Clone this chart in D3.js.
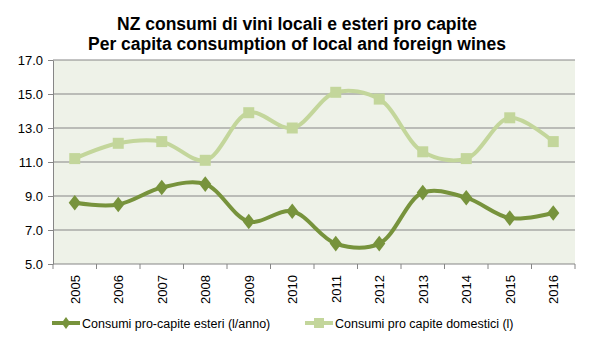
<!DOCTYPE html>
<html><head><meta charset="utf-8">
<script src="https://cdn.jsdelivr.net/npm/d3@7"></script>
<style>body{margin:0;background:#fff}svg{display:block}</style>
</head><body>
<script>
const years = ["2005","2006","2007","2008","2009","2010","2011","2012","2013","2014","2015","2016"];
const esteri = [8.6,8.5,9.5,9.7,7.5,8.1,6.2,6.2,9.2,8.9,7.7,8.0];
const domestici = [11.2,12.1,12.2,11.1,13.9,13.0,15.1,14.7,11.6,11.2,13.6,12.2];
const yTicks = [5,7,9,11,13,15,17];
const titleLines = ["NZ consumi di vini locali e esteri pro capite","Per capita consumption of local and foreign wines"];
const seriesNames = ["Consumi pro-capite esteri (l/anno)","Consumi pro capite domestici (l)"];

const W=594,H=344;
const svg=d3.select("body").append("svg").attr("width",W).attr("height",H);
const L=53,R=575,T=60,B=264;
const x=d3.scaleBand().domain(years).range([L,R]);
const y=d3.scaleLinear().domain([5,17]).range([B,T]);
const dark="#77933C", light="#C3D69B";

svg.append("rect").attr("x",L).attr("y",T).attr("width",R-L).attr("height",B-T).attr("fill","#EEF2E8");
svg.selectAll("line.grid").data(yTicks.slice(1)).enter().append("line")
  .attr("x1",L).attr("x2",R).attr("y1",d=>y(d)).attr("y2",d=>y(d))
  .attr("stroke","#868686").attr("stroke-width",1);

const ya=svg.append("g").attr("transform",`translate(${L},0)`)
  .call(d3.axisLeft(y).tickValues(yTicks).tickFormat(d3.format(".1f")).tickSize(5).tickSizeOuter(0));
ya.select(".domain").attr("stroke","#868686");
ya.selectAll(".tick line").attr("stroke","#868686");
ya.selectAll("text").attr("font-family","Liberation Sans, Arial, sans-serif").attr("font-size",13).attr("fill","#000").attr("x",-10);

const xa=svg.append("g").attr("transform",`translate(0,${B})`);
xa.append("line").attr("x1",L).attr("x2",R).attr("stroke","#868686");
const bounds=years.map(d=>x(d)).concat([x(years[years.length-1])+x.bandwidth()]);
xa.selectAll("line.t").data(bounds).enter().append("line")
  .attr("x1",d=>d).attr("x2",d=>d).attr("y1",0).attr("y2",5).attr("stroke","#868686");
xa.selectAll("text").data(years).enter().append("text")
  .attr("transform",d=>`translate(${x(d)+x.bandwidth()/2+5},11) rotate(-90)`)
  .attr("text-anchor","end")
  .attr("font-family","Liberation Sans, Arial, sans-serif").attr("font-size",13).text(d=>d);

const line=d3.line().x((d,i)=>x(years[i])+x.bandwidth()/2).y(d=>y(d)).curve(d3.curveCatmullRom.alpha(0.5));

svg.append("path").datum(domestici).attr("d",line).attr("fill","none").attr("stroke",light).attr("stroke-width",4);
svg.selectAll("rect.sq").data(domestici).enter().append("rect")
  .attr("x",(d,i)=>x(years[i])+x.bandwidth()/2-5.5).attr("y",d=>y(d)-5.5)
  .attr("width",11).attr("height",11).attr("fill",light);

svg.append("path").datum(esteri).attr("d",line).attr("fill","none").attr("stroke",dark).attr("stroke-width",4);
const diamond=d3.symbol().type(d3.symbolDiamond).size(70);
svg.selectAll("path.dm").data(esteri).enter().append("path")
  .attr("d",diamond).attr("transform",(d,i)=>`translate(${x(years[i])+x.bandwidth()/2},${y(d)}) scale(1.35,1)`)
  .attr("fill",dark);

const titleW=[360,418];
svg.selectAll("text.title").data(titleLines).enter().append("text")
  .attr("x",(d,i)=>297-titleW[i]/2).attr("y",(d,i)=>30+i*20)
  .attr("textLength",(d,i)=>titleW[i]).attr("lengthAdjust","spacingAndGlyphs")
  .attr("font-family","Liberation Sans, Arial, sans-serif").attr("font-weight","bold")
  .attr("font-size",18).text(d=>d);

// legend
const lg=[{x:52,c:dark,t:"d"},{x:305,c:light,t:"s"}];
lg.forEach((o,i)=>{
  const g=svg.append("g");
  g.append("line").attr("x1",o.x).attr("x2",o.x+28).attr("y1",323).attr("y2",323).attr("stroke",o.c).attr("stroke-width",4);
  if(o.t==="d") g.append("path").attr("d",d3.symbol().type(d3.symbolDiamond).size(40)).attr("transform",`translate(${o.x+14},323) scale(1.3,1)`).attr("fill",o.c);
  else g.append("rect").attr("x",o.x+9).attr("y",318).attr("width",10).attr("height",10).attr("fill",o.c);
  g.append("text").attr("x",o.x+30).attr("y",328).attr("font-family","Liberation Sans, Arial, sans-serif")
   .attr("font-size",12.5).text(seriesNames[i]);
});
</script>
</body></html>
